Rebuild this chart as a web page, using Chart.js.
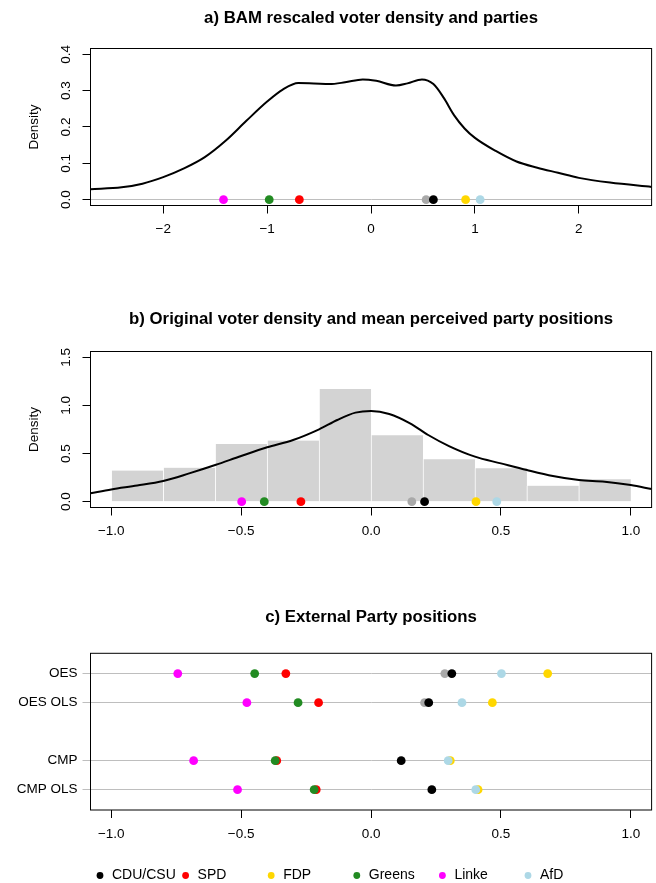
<!DOCTYPE html>
<html>
<head>
<meta charset="utf-8">
<script src="https://cdn.jsdelivr.net/npm/chart.js@4.4.1/dist/chart.umd.min.js"></script>
<style>
  html, body { margin: 0; padding: 0; background: #fff; }
  body { width: 656px; height: 883px; position: relative; overflow: hidden; }
  canvas { position: absolute; left: 0; }
</style>
</head>
<body>
<canvas id="panel-a" width="656" height="290" style="top:0px"></canvas>
<canvas id="panel-b" width="656" height="290" style="top:300px"></canvas>
<canvas id="panel-c" width="656" height="283" style="top:600px"></canvas>
<script>
// parties; the grey marker is not part of the legend
const parties = ['CDU/CSU', 'SPD', 'FDP', 'Greens', 'Linke', 'AfD', 'CSU'];
const partyColors = ['#000000', '#FF0000', '#FFD700', '#228B22', '#FF00FF', '#ADD8E6', '#A9A9A9'];
const legendCount = 6;
const drawSequence = [6, 0, 1, 2, 3, 4, 5]; // grey first, light blue last (on top)

// a) BAM rescaled
const bamPositions = [0.60, -0.69, 0.91, -0.98, -1.42, 1.05, 0.53];
const bamDensityX = [-2.7, -2.4, -2.2, -2.0, -1.8, -1.6, -1.4, -1.2, -1.0, -0.85, -0.7, -0.55, -0.4, -0.25, -0.08, 0.05, 0.24, 0.35, 0.49, 0.6, 0.7, 0.8, 0.9, 1.0, 1.2, 1.4, 1.6, 1.8, 2.0, 2.3, 2.7];
const bamDensityY = [0.029, 0.034, 0.044, 0.062, 0.086, 0.117, 0.162, 0.217, 0.270, 0.303, 0.321, 0.320, 0.318, 0.323, 0.331, 0.327, 0.314, 0.320, 0.331, 0.318, 0.280, 0.232, 0.196, 0.170, 0.134, 0.105, 0.088, 0.074, 0.060, 0.047, 0.035];
const xTicksA = [-2, -1, 0, 1, 2];
const yTicksA = [0, 0.1, 0.2, 0.3, 0.4];

// b) original scale
const meanPositions = [0.206, -0.27, 0.404, -0.411, -0.498, 0.484, 0.157];
const histMids = [-0.9, -0.7, -0.5, -0.3, -0.1, 0.1, 0.3, 0.5, 0.7, 0.9];
const histHeights = [0.323, 0.354, 0.600, 0.635, 1.170, 0.690, 0.440, 0.347, 0.167, 0.233];
const voterDensityX = [-1.08, -1.0, -0.9, -0.8, -0.7, -0.6, -0.5, -0.4, -0.3, -0.2, -0.13, -0.06, 0.0, 0.07, 0.15, 0.22, 0.3, 0.4, 0.5, 0.6, 0.7, 0.8, 0.9, 1.0, 1.08];
const voterDensityY = [0.087, 0.128, 0.168, 0.215, 0.294, 0.381, 0.475, 0.565, 0.641, 0.752, 0.849, 0.925, 0.942, 0.911, 0.814, 0.693, 0.578, 0.468, 0.398, 0.329, 0.267, 0.225, 0.208, 0.173, 0.132];
const xTicksBC = [-1, -0.5, 0, 0.5, 1];
const yTicksB = [0, 0.5, 1, 1.5];

// c) external positions
const rowLabels = ['OES', 'OES OLS', 'CMP', 'CMP OLS'];
const rowPos = [5, 4, 2, 1];
const oes = [0.311, -0.328, 0.680, -0.448, -0.744, 0.502, 0.284];
const oesOls = [0.222, -0.202, 0.467, -0.281, -0.478, 0.350, 0.206];
const cmp = [0.116, -0.363, 0.305, -0.369, -0.683, 0.297, null];
const cmpOls = [0.234, -0.211, 0.412, -0.219, -0.514, 0.403, null];
const rowValues = [oes, oesOls, cmp, cmpOls];

const fontFamily = '"Liberation Sans", Arial, Helvetica, sans-serif';
Chart.defaults.font.family = fontFamily;
Chart.defaults.font.size = 13.5;
Chart.defaults.color = '#000';
Chart.defaults.animation = false;

const minus = v => (v < 0 ? '\u2212' : '') + Math.abs(v);
const fmt1 = v => (v < 0 ? '\u2212' : '') + Math.abs(v).toFixed(1);

const boxPlugin = {
  id: 'box',
  beforeDatasetsDraw(chart) {
    const { ctx, chartArea: a } = chart;
    ctx.save();
    ctx.strokeStyle = '#000';
    ctx.lineWidth = 1;
    ctx.strokeRect(a.left, a.top, a.right - a.left, a.bottom - a.top);
    ctx.restore();
  }
};

const legendPlugin = {
  id: 'partyLegend',
  afterDraw(chart) {
    const ctx = chart.ctx;
    ctx.save();
    ctx.font = '14px ' + fontFamily;
    ctx.textBaseline = 'middle';
    for (let i = 0; i < legendCount; i++) {
      const x = 100 + i * 85.6, y = 275.5;
      ctx.fillStyle = partyColors[i];
      ctx.beginPath();
      ctx.arc(x, y, 3.4, 0, 2 * Math.PI);
      ctx.fill();
      ctx.fillStyle = '#000';
      ctx.fillText(parties[i], x + 12, y);
    }
    ctx.restore();
  }
};

function xAxis(min, max, ticks, fmt, height, pad) {
  return {
    type: 'linear', min, max, offset: false,
    afterBuildTicks: s => { s.ticks = ticks.map(v => ({ value: v })); },
    afterFit: s => { s.height = height; },
    border: { display: false },
    grid: { drawOnChartArea: false, offset: false, tickLength: 8, tickColor: '#000' },
    ticks: { padding: pad, maxRotation: 0, autoSkip: false, callback: fmt }
  };
}

function densityAxis(min, max, ticks, zeroLine) {
  return {
    type: 'linear', min, max,
    afterBuildTicks: s => { s.ticks = ticks.map(v => ({ value: v })); },
    afterFit: s => { s.width = 90.5; },
    border: { display: false },
    grid: {
      color: c => (zeroLine && c.tick && c.tick.value === 0) ? '#BEBEBE' : 'rgba(0,0,0,0)',
      tickColor: '#000', tickLength: 8
    },
    ticks: { minRotation: 90, maxRotation: 90, crossAlign: 'center', padding: 6.4, autoSkip: false, callback: fmt1 },
    title: { display: true, text: 'Density', padding: { top: 26.2, bottom: 0 } }
  };
}

function titleOpts(text, top, bottom) {
  return { display: true, text, fullSize: false, color: '#000',
    font: { size: 16.8, weight: 'bold' }, padding: { top, bottom } };
}

function partyPoints(valuesFor) {
  return drawSequence.map((p, k) => ({
    type: 'scatter',
    label: parties[p],
    data: valuesFor(p),
    backgroundColor: partyColors[p],
    borderWidth: 0,
    pointRadius: 4.4,
    pointHoverRadius: 4.4,
    order: 10 - k
  }));
}

const common = {
  responsive: false,
  animation: false,
  events: [],
  layout: { padding: 0 }
};

// panel a
new Chart(document.getElementById('panel-a'), {
  type: 'scatter',
  data: {
    datasets: [
      {
        type: 'line', label: 'density',
        data: bamDensityX.map((x, i) => ({ x, y: bamDensityY[i] })),
        borderColor: '#000', borderWidth: 2, pointRadius: 0,
        cubicInterpolationMode: 'monotone', fill: false, order: 20
      },
      ...partyPoints(p => [{ x: bamPositions[p], y: 0 }])
    ]
  },
  options: {
    ...common,
    plugins: {
      legend: { display: false }, tooltip: { enabled: false },
      title: titleOpts('a) BAM rescaled voter density and parties', 8.4, 19.94)
    },
    scales: {
      x: xAxis(-2.7, 2.7, xTicksA, minus, 84.5, 7.7),
      y: densityAxis(-0.016, 0.416, yTicksA, true)
    }
  },
  plugins: [boxPlugin]
});

// panel b
new Chart(document.getElementById('panel-b'), {
  type: 'scatter',
  data: {
    datasets: [
      {
        type: 'bar', label: 'histogram',
        data: histMids.map((x, i) => ({ x, y: histHeights[i] })),
        backgroundColor: '#D3D3D3', borderColor: '#FFFFFF',
        borderWidth: { left: 1, right: 0, top: 0, bottom: 0 }, borderSkipped: false,
        barPercentage: 1, categoryPercentage: 1, grouped: false, order: 30
      },
      {
        type: 'line', label: 'density',
        data: voterDensityX.map((x, i) => ({ x, y: voterDensityY[i] })),
        borderColor: '#000', borderWidth: 2, pointRadius: 0,
        cubicInterpolationMode: 'monotone', fill: false, order: 20
      },
      ...partyPoints(p => [{ x: meanPositions[p], y: 0 }])
    ]
  },
  options: {
    ...common,
    plugins: {
      legend: { display: false }, tooltip: { enabled: false },
      title: titleOpts('b) Original voter density and mean perceived party positions', 9.4, 21.94)
    },
    scales: {
      x: xAxis(-1.08, 1.08, xTicksBC, fmt1, 82.5, 7.7),
      y: densityAxis(-0.06, 1.56, yTicksB, false)
    }
  },
  plugins: [boxPlugin]
});

// panel c
new Chart(document.getElementById('panel-c'), {
  type: 'scatter',
  data: {
    datasets: partyPoints(p => rowValues
      .map((row, r) => ({ x: row[p], y: rowPos[r] }))
      .filter(d => d.x !== null))
  },
  options: {
    ...common,
    plugins: {
      legend: { display: false }, tooltip: { enabled: false },
      title: titleOpts('c) External Party positions', 7.2, 25.94)
    },
    scales: {
      x: xAxis(-1.08, 1.08, xTicksBC, fmt1, 73, 8.2),
      y: {
        type: 'linear', min: 0.3, max: 5.7,
        afterBuildTicks: s => { s.ticks = rowPos.map(v => ({ value: v })); },
        afterFit: s => { s.width = 90.5; },
        border: { display: false },
        grid: { color: '#BEBEBE', tickColor: '#BEBEBE', tickLength: 8 },
        ticks: { padding: 5, autoSkip: false, callback: v => rowLabels[rowPos.indexOf(v)] }
      }
    }
  },
  plugins: [boxPlugin, legendPlugin]
});
</script>
</body>
</html>
